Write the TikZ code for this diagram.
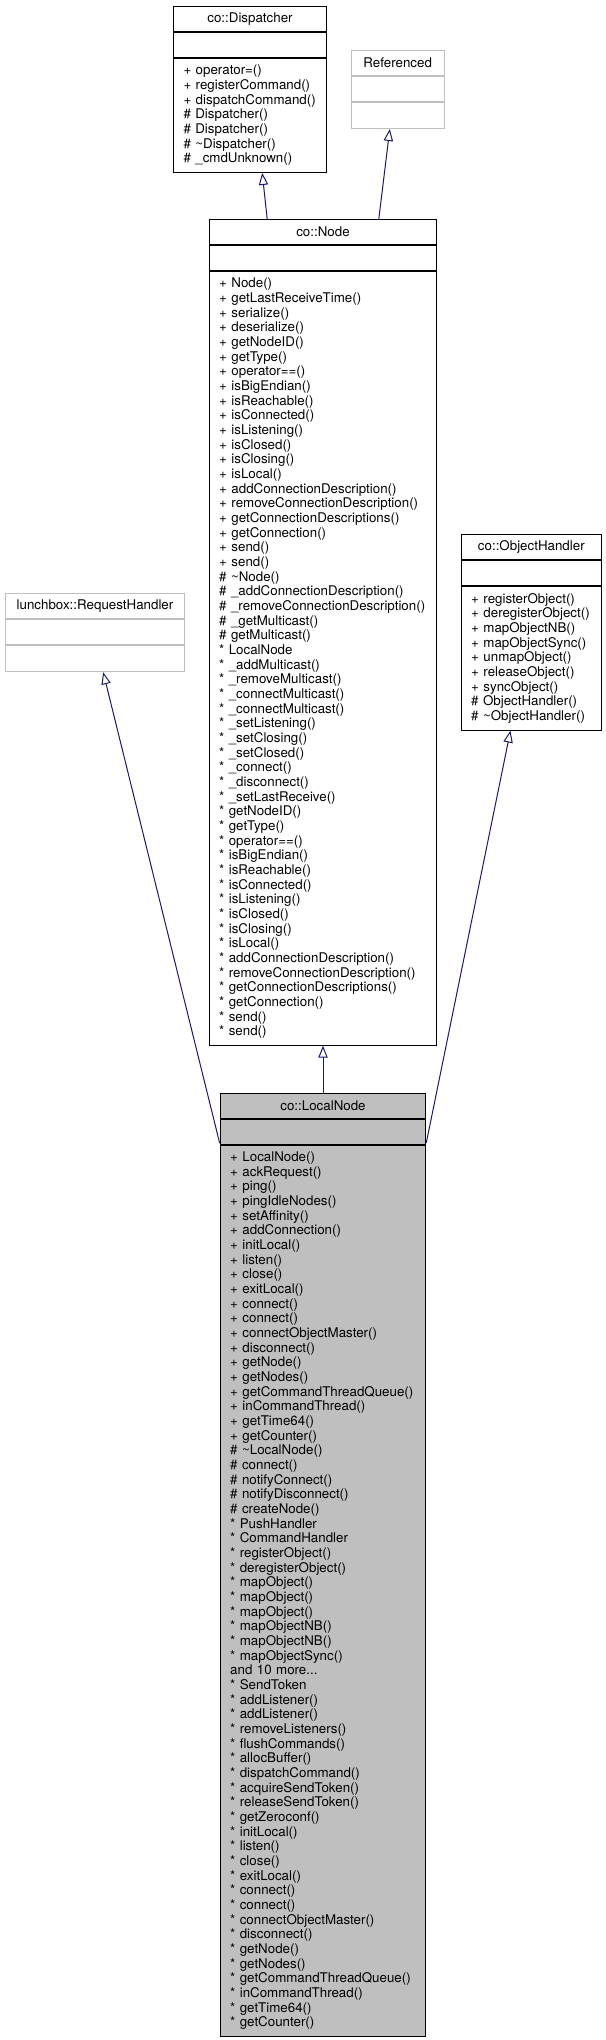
\documentclass[tikz,border=0pt]{standalone}
\usepackage{fontspec}
\setmainfont{TeX Gyre Heros}
\usepackage{tikz}
\usetikzlibrary{arrows.meta}
\usetikzlibrary{calc}
\definecolor{grey75}{RGB}{191,191,191}
\definecolor{midnight}{RGB}{25,25,112}
\hyphenpenalty=10000

\begin{document}
\begin{tikzpicture}[x=0.75pt, y=-0.75pt, ->, >={Triangle[open, length=9pt, width=7pt]}, line width=0.75pt]
  \tikzstyle{cls}=[draw, anchor=north, inner sep=0pt, minimum height=18.75pt, font=\fontsize{10}{11}\selectfont]
  \tikzstyle{members}=[cls, inner xsep=7.5pt, align=left]
  \tikzstyle{undoc}=[draw=grey75]
  \tikzstyle{focus}=[fill=grey75]
  \tikzstyle{inherits}=[draw=midnight]

  \useasboundingbox (0,0) rectangle (606,2040);

	% co::Dispatcher
	\node[cls, anchor=north west, minimum width=114.75pt] (DispT) at (173,6) {co::Dispatcher};
	\node[cls, minimum width=114.75pt] (DispA) at (DispT.south) {};
	\node[members, text width=99.75pt, minimum height=85.47pt] (DispM) at (DispA.south) {%
		+~operator=()\\ +~registerCommand()\\ +~dispatchCommand()\\ \#~Dispatcher()\\
		\#~Dispatcher()\\ \#~\textasciitilde Dispatcher()\\ \#~\_cmdUnknown()};

	% Referenced
	\node[cls, undoc, anchor=north west, minimum width=69.75pt] (RefT) at (350.7,50) {Referenced};
	\node[cls, undoc, minimum width=69.75pt] (RefA) at (RefT.south) {};
	\node[cls, undoc, minimum width=69.75pt, minimum height=19.5pt] (RefM) at (RefA.south) {};

	% co::Node
	\node[cls, anchor=north west, minimum width=170.7pt] (NodeT) at (208.7,219) {co::Node};
	\node[cls, minimum width=170.7pt] (NodeA) at (NodeT.south) {};
	\node[members, text width=155.7pt, minimum height=580.25pt] (NodeM) at (NodeA.south) {%
		+~Node()\\ +~getLastReceiveTime()\\ +~serialize()\\ +~deserialize()\\ +~getNodeID()\\
		+~getType()\\ +~operator==()\\ +~isBigEndian()\\ +~isReachable()\\ +~isConnected()\\
		+~isListening()\\ +~isClosed()\\ +~isClosing()\\ +~isLocal()\\
		+~addConnectionDescription()\\ +~removeConnectionDescription()\\
		+~getConnectionDescriptions()\\ +~getConnection()\\ +~send()\\ +~send()\\
		\#~\textasciitilde Node()\\ \#~\_addConnectionDescription()\\
		\#~\_removeConnectionDescription()\\ \#~\_getMulticast()\\ \#~getMulticast()\\
		{*}~LocalNode\\ {*}~\_addMulticast()\\ {*}~\_removeMulticast()\\ {*}~\_connectMulticast()\\
		{*}~\_connectMulticast()\\ {*}~\_setListening()\\ {*}~\_setClosing()\\ {*}~\_setClosed()\\
		{*}~\_connect()\\ {*}~\_disconnect()\\ {*}~\_setLastReceive()\\ {*}~getNodeID()\\
		{*}~getType()\\ {*}~operator==()\\ {*}~isBigEndian()\\ {*}~isReachable()\\ {*}~isConnected()\\
		{*}~isListening()\\ {*}~isClosed()\\ {*}~isClosing()\\ {*}~isLocal()\\
		{*}~addConnectionDescription()\\ {*}~removeConnectionDescription()\\
		{*}~getConnectionDescriptions()\\ {*}~getConnection()\\ {*}~send()\\ {*}~send()};

	% lunchbox::RequestHandler
	\node[cls, undoc, anchor=north west, minimum width=134.25pt] (RHT) at (5,593.3) {lunchbox::RequestHandler};
	\node[cls, undoc, minimum width=134.25pt] (RHA) at (RHT.south) {};
	\node[cls, undoc, minimum width=134.25pt, minimum height=19.5pt] (RHM) at (RHA.south) {};

	% co::ObjectHandler
	\node[cls, anchor=north west, minimum width=105.2pt] (OHT) at (460.7,534.3) {co::ObjectHandler};
	\node[cls, minimum width=105.2pt] (OHA) at (OHT.south) {};
	\node[members, text width=90.2pt, minimum height=107.46pt] (OHM) at (OHA.south) {%
		+~registerObject()\\ +~deregisterObject()\\ +~mapObjectNB()\\ +~mapObjectSync()\\
		+~unmapObject()\\ +~releaseObject()\\ +~syncObject()\\ \#~ObjectHandler()\\
		\#~\textasciitilde ObjectHandler()};

	% co::LocalNode
	\node[cls, focus, anchor=north west, minimum width=154.2pt] (LNT) at (219.7,1092.7) {co::LocalNode};
	\node[cls, focus, minimum width=154.2pt] (LNA) at (LNT.south) {};
	\node[members, focus, text width=139.2pt, minimum height=668.2pt] (LNM) at (LNA.south) {%
		+~LocalNode()\\ +~ackRequest()\\ +~ping()\\ +~pingIdleNodes()\\ +~setAffinity()\\
		+~addConnection()\\ +~initLocal()\\ +~listen()\\ +~close()\\ +~exitLocal()\\
		+~connect()\\ +~connect()\\ +~connectObjectMaster()\\ +~disconnect()\\ +~getNode()\\
		+~getNodes()\\ +~getCommandThreadQueue()\\ +~inCommandThread()\\ +~getTime64()\\
		+~getCounter()\\ \#~\textasciitilde LocalNode()\\ \#~connect()\\ \#~notifyConnect()\\
		\#~notifyDisconnect()\\ \#~createNode()\\ {*}~PushHandler\\ {*}~CommandHandler\\
		{*}~registerObject()\\ {*}~deregisterObject()\\ {*}~mapObject()\\ {*}~mapObject()\\
		{*}~mapObject()\\ {*}~mapObjectNB()\\ {*}~mapObjectNB()\\ {*}~mapObjectSync()\\
		and 10 more...\\ {*}~SendToken\\ {*}~addListener()\\ {*}~addListener()\\
		{*}~removeListeners()\\ {*}~flushCommands()\\ {*}~allocBuffer()\\ {*}~dispatchCommand()\\
		{*}~acquireSendToken()\\ {*}~releaseSendToken()\\ {*}~getZeroconf()\\ {*}~initLocal()\\
		{*}~listen()\\ {*}~close()\\ {*}~exitLocal()\\ {*}~connect()\\ {*}~connect()\\
		{*}~connectObjectMaster()\\ {*}~disconnect()\\ {*}~getNode()\\ {*}~getNodes()\\
		{*}~getCommandThreadQueue()\\ {*}~inCommandThread()\\ {*}~getTime64()\\ {*}~getCounter()};

	\path
		($(NodeT.north)+(-55.8,0)$) edge [inherits] ($(DispM.south)+(12.2,0)$)
		($(NodeT.north)+(55.8,0)$) edge [inherits] ($(RefM.south)+(-7.9,0)$)
		(LNT.north) edge [inherits] (NodeM.south)
		($(LNA.south west)+(0,-1.5)$) edge [inherits] ($(RHM.south)+(8.2,0)$)
		($(LNA.south east)+(0,-2)$) edge [inherits] ($(OHM.south)+(-20.85,0)$)
		;

\end{tikzpicture}
\end{document}
